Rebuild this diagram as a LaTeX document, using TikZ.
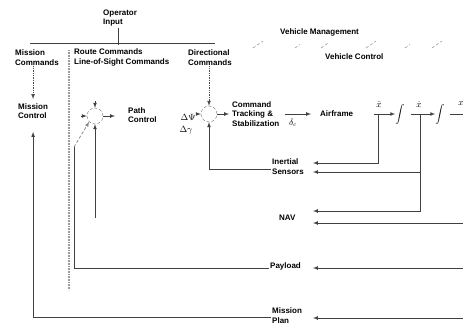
\documentclass[tikz,border=0pt]{standalone}
\usepackage{fontspec}
\setmainfont{Liberation Sans}
\usepackage{amsmath}
\tikzset{
	lbl/.style={font=\bfseries\fontsize{8}{9.5}\selectfont, align=left, anchor=west, inner sep=1pt},
	mlbl/.style={font=\fontsize{9}{10}\selectfont, inner sep=1pt},
	sumj/.style={circle, draw=black!55, densely dashed, minimum size=16pt, inner sep=0pt},
	wire/.style={draw=black!75, line width=0.7pt},
	sig/.style={wire, -latex},
	dots/.style={draw=black!70, densely dotted, line width=0.7pt},
	slash/.style={draw=black!45, densely dashed, line width=0.5pt},
}
\begin{document}
\begin{tikzpicture}[x=1pt, y=-1pt]
	\useasboundingbox (0,0) rectangle (463,322);
	%labels across the top
	\node[lbl] (opin) at (102,18) {Operator\\Input};
	\coordinate (bus) at (118,43);
	\draw[wire] (opin.south -| bus) -- ([yshift=-2pt]bus);
	\draw[wire] (bus) ++(-88,0) -- ++(185,0);
	\node[lbl] (miscmd) at (14,57.5) {Mission\\Commands};
	\node[lbl] (routecmd) at (73,57.5) {Route Commands\\Line-of-Sight Commands};
	\node[lbl] (dircmd) at (187,57.5) {Directional\\Commands};
	\node[lbl] (vehmgmt) at (279,32) {Vehicle Management};
	\node[lbl] (vehctl) at (324,57) {Vehicle Control};
	\foreach \x/\l in {253/10, 295/5, 321/8, 366/10, 405/5, 432/10}
		\draw[slash] (\x,48) -- ++(\l,-0.7*\l);
	%dividing line
	\draw[draw=black!40, line width=1.2pt, dash pattern=on 1pt off 0.6pt] (69,50) -- (69,290);
	%forward path
	\node[lbl] (miscontrol) at (17,111) {Mission\\Control};
	\node[sumj] (j1) at (95,116) {};
	\node[lbl] (pathctl) at (127,115) {Path\\Control};
	\node (dpsi) [mlbl] at (188,117) {$\Delta\Psi$};
	\node (dgam) [mlbl] at (186,130) {$\Delta\gamma$};
	\node[sumj] (j2) at (209,114) {};
	\node[lbl] (cmdtrack) at (231,114) {Command\\Tracking \&\\Stabilization};
	\node[lbl] (airframe) at (319,114) {Airframe};
	\node (dc) [mlbl] at (293,123) {$\delta_c$};
	\node (int1) [font=\fontsize{9}{10}\selectfont, inner sep=0pt] at (400,114) {$\displaystyle\int$};
	\node (int2) [font=\fontsize{9}{10}\selectfont, inner sep=0pt] at (440,114) {$\displaystyle\int$};
	\node (xddl) [mlbl] at (379,104) {$\ddot{x}$};
	\node (xdl) [mlbl] at (419,104) {$\dot{x}$};
	\node (xl) [mlbl] at (461,104) {$x$};
	\coordinate (xdd) at (378,114);
	\coordinate (xd) at (420,114);
	\coordinate (redge) at (463,0);
	\draw[dots, -latex, shorten >=3pt] (miscmd.south -| miscontrol.north) -- (miscontrol.north);
	\draw[dots, -latex] (dircmd.south -| j2.north) -- (j2.north);
	\draw[sig] (j1.north) ++(0,-7) -- (j1.north);
	\draw[sig] (j1.west) ++(-6,0) -- (j1.west);
	\draw[sig, shorten >=12pt] (j1.east) -- (j1.east -| pathctl.west);
	\draw[sig] (dpsi.east |- j2.west) -- (j2.west);
	\draw[sig, shorten >=2pt] (j2.east) -- (j2.east -| cmdtrack.west);
	\draw[sig, shorten <=4pt, shorten >=8pt] (cmdtrack.east) -- (cmdtrack.east -| airframe.west);
	\draw[sig] (airframe.east) ++(20,0) -- (int1.west);
	\draw[sig, shorten <=6pt] (int1.east) -- (int2.west);
	\draw[wire, shorten <=5pt] (int2.east) -- (redge |- int2.east);
	%feedback from the right
	\coordinate (tips) at (313,0);
	\node[lbl] (inertial) at (271,166.5) {Inertial\\Sensors};
	\node[lbl] (nav) at (278,218) {NAV};
	\node[lbl] (payload) at (269,266) {Payload};
	\node[lbl] (misplan) at (271,315.5) {Mission\\Plan};
	\path (inertial.east -| tips) ++(0,-3.5) coordinate (ins1);
	\path (inertial.east -| tips) ++(0,5.5) coordinate (ins2);
	\path (nav.east -| tips) ++(0,-7) coordinate (nav1);
	\path (nav.east -| tips) ++(0,5) coordinate (nav2);
	\path (payload.east -| tips) ++(0,2) coordinate (pay1);
	\path (misplan.east -| tips) ++(0,2.5) coordinate (mp1);
	\draw[sig] (xdd) |- (ins1);
	\draw[sig] (xd) |- (ins2);
	\draw[sig] (xd) |- (nav1);
	\draw[sig] (redge |- nav2) -- (nav2);
	\draw[sig] (redge |- pay1) -- (pay1);
	\draw[sig] (redge |- mp1) -- (mp1);
	%loops back to the left
	\coordinate (plup) at (74,147);
	\coordinate (fb1) at (95,218);
	\draw[sig] ([yshift=-2.5pt]inertial.west) -| (j2.south);
	\draw[sig] (fb1) -- (j1.south);
	\draw[wire] ([yshift=-2pt]payload.west) -| (plup);
	\draw[sig, draw=black!50, densely dashed] (plup) -- (j1.south west);
	\draw[sig, shorten >=12pt] ([yshift=-1.5pt]misplan.west) -| (miscontrol.south);
\end{tikzpicture}
\end{document}
